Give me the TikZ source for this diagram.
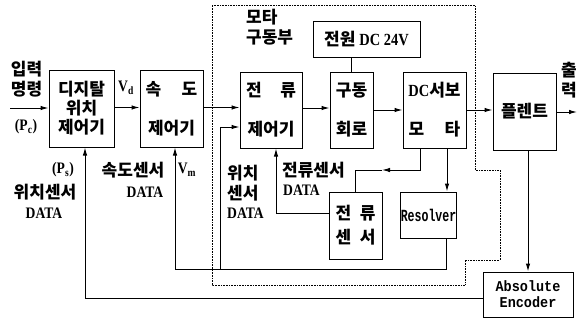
\documentclass[tikz,border=0pt]{standalone}
\usepackage{fontspec}
\setmainfont{Liberation Serif}
\newfontfamily\kr{Noto Sans CJK KR}
\newfontfamily\cond{Liberation Serif}[FakeStretch=0.85]
\newfontfamily\rmono{Liberation Mono}[FakeStretch=0.68]
\newfontfamily\emono{Liberation Mono}[FakeStretch=0.9]
\usetikzlibrary{arrows.meta,positioning}
\tikzset{
 blk/.style={draw,line width=1pt,align=center,inner sep=0pt,
   font=\kr\bfseries\fontsize{17}{19}\selectfont},
 arr/.style={-{Latex[length=8pt,width=4.5pt]},line width=1pt},
 wire/.style={line width=1pt},
 lbl/.style={inner sep=0pt,align=left,font=\kr\bfseries\fontsize{17}{20}\selectfont},
 dat/.style={inner sep=0pt,font=\cond\bfseries\fontsize{16}{18}\selectfont},
 zone/.style={densely dotted,line width=0.6pt}
}

\begin{document}
\begin{tikzpicture}[x=1pt,y=-1pt]
\useasboundingbox (0,0) rectangle (577,321);
% motor drive zone
\draw[zone] (212,5) -- (475,5) -- (475,170) -- (500,170) -- (500,260) -- (465,260)
  -- (465,285) -- (212,285) -- cycle;
% blocks
\node[blk,minimum width=65pt,minimum height=77pt] (pos) at (81.5,108.5) {디지탈\\위치\\제어기};
\node[blk,minimum width=63pt,minimum height=77pt] (spd) at (171.5,108.5) {속\hspace{1.2em}도\\[20pt]제어기};
\node[blk,minimum width=62pt,minimum height=76pt] (cur) at (271,110) {전\hspace{1.1em}류\\[20pt]제어기};
\node[blk,minimum width=43pt,minimum height=76pt] (drv) at (351.5,110) {구동\\[20pt]회로};
\node[blk,minimum width=107pt,minimum height=35pt] (pwr) at (366.5,39.5) {전원 {\cond DC 24V}};
\node[blk,minimum width=63pt,minimum height=76pt] (servo) at (434.5,110) {{\cond DC}서보\\[20pt]모\hspace{1.2em}타};
\node[blk,minimum width=63pt,minimum height=77pt] (plant) at (524.5,111.5) {플렌트};
\node[blk,minimum width=53pt,minimum height=67pt] (cs) at (355.5,225.5) {전\hspace{0.5em}류\\[5pt]센\hspace{0.5em}서};
\node[blk,minimum width=55pt,minimum height=46pt,font=\rmono\bfseries\fontsize{17}{19}\selectfont] (res) at (428.5,215) {Resolver};
\node[blk,minimum width=90pt,minimum height=45pt,font=\emono\bfseries\fontsize{15}{16}\selectfont] (enc) at (528,294.5) {Absolute\\Encoder};
% labels
\node[lbl] (inlbl) at (26.5,79) {입력\\명령};
\node[dat] (pc) at (26,127) {(P\textsubscript{c})};
\node[dat] (vd) at (126,88) {V\textsubscript{d}};
\node[dat] (ps) at (63,170) {(P\textsubscript{s})};
\node[lbl] (possen) at (45,192) {위치센서};
\node[dat] (posdat) at (44,213) {DATA};
\node[lbl] (spdsen) at (133,170) {속도센서};
\node[dat] (spddat) at (145,192) {DATA};
\node[dat] (vm) at (187,170) {V\textsubscript{m}};
\node[lbl,anchor=west] (psen2) at (227,183) {위치\\센서};
\node[dat,anchor=west] (pdat2) at (227,213) {DATA};
\node[lbl,anchor=west] (csen) at (282,170) {전류센서};
\node[dat,anchor=west] (cdat) at (283,190) {DATA};
\node[lbl,anchor=north west] (zlbl) at (246,9) {모타\\구동부};
\node[lbl] (outlbl) at (569,80) {출\\력};
% free ends and bends
\coordinate (in) at (10,108);
\coordinate (out) at (577,112);
\coordinate (cbend) at (382,170);
\coordinate (rb) at (175,269);
\coordinate (pb) at (220,269);
% forward path
\draw[arr] (in) -- (in -| pos.west);
\draw[arr] ([yshift=1pt]pos.east) -- ([yshift=1pt]spd.west);
\draw[arr] ([yshift=1pt]spd.east) -- ([yshift=1pt]spd.east -| cur.west);
\draw[arr] ([yshift=2pt]cur.east) -- ([yshift=2pt]drv.west);
\draw[arr] (drv.east) -- (servo.west);
\draw[arr] (servo.east) -- (servo.east -| plant.west);
\draw[arr] (plant.east |- out) -- (out);
\draw[wire] (drv.north) -- (drv.north |- pwr.south);
% feedback
\draw[arr] ([xshift=-14.5pt]servo.south) |- (cbend);
\draw[wire] (cbend) -| (cs.north);
\draw[arr] ([xshift=12.5pt]servo.south) -- ([xshift=12.5pt]servo.south |- res.north);
\draw[arr] ([yshift=12.5pt]cs.west) -| ([xshift=5pt]cur.south);
\draw[arr] ([xshift=17.5pt]res.south) |- (rb) -- (rb |- spd.south);
\draw[arr] (pb) |- ([yshift=-17pt]cur.west);
\draw[arr] (plant.south -| enc.north) -- (enc.north);
\draw[arr] ([yshift=-3.5pt]enc.west) -| ([xshift=3.5pt]pos.south);
\end{tikzpicture}
\end{document}
